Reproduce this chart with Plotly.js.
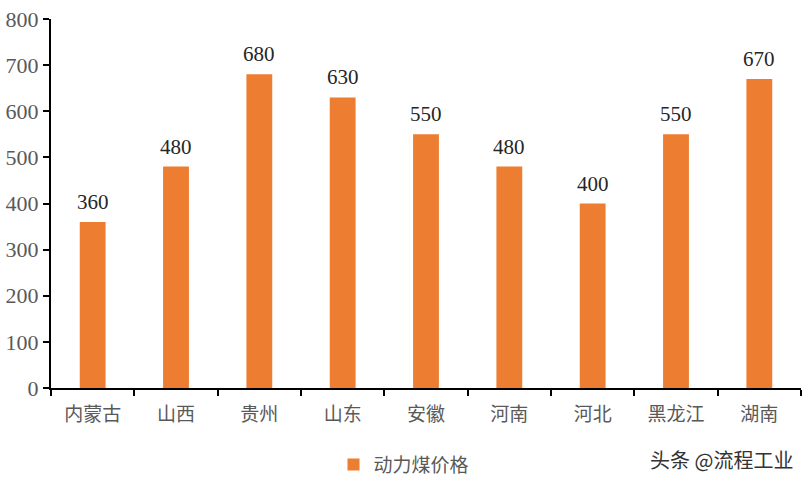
<!DOCTYPE html>
<html><head><meta charset="utf-8">
<script src="https://cdn.plot.ly/plotly-3.0.1.min.js"></script>
<style>html,body{margin:0;padding:0;background:#fff}#c{width:808px;height:484px}</style>
</head><body><div id="c"></div>
<script>
const categories = ["内蒙古","山西","贵州","山东","安徽","河南","河北","黑龙江","湖南"];
const prices = [360,480,680,630,550,480,400,550,670];
const seriesName = "动力煤价格";
const yTicks = [0,100,200,300,400,500,600,700,800];

const serif = "Liberation Serif, Times New Roman, serif";
const cjk = "Noto Sans CJK SC, sans-serif";

const labels = categories.map((c, i) => ({
  x: c, y: prices[i], xref: "x", yref: "y",
  text: String(prices[i]), showarrow: false,
  yanchor: "bottom", yshift: 6,
  font: {family: serif, size: 21, color: "#262626"}
}));

Plotly.newPlot("c", [{
  type: "bar",
  x: categories,
  y: prices,
  name: seriesName,
  marker: {color: "#ED7D31"},
  showlegend: true
}], {
  width: 808, height: 484,
  margin: {l: 51, r: 7, t: 19, b: 96, autoexpand: false},
  paper_bgcolor: "#fff", plot_bgcolor: "#fff",
  bargap: 0.69,
  xaxis: {
    type: "category", automargin: false,
    showline: true, linecolor: "#000", linewidth: 2,
    ticks: "outside", tickson: "boundaries", ticklen: 6, tickcolor: "#000", tickwidth: 2,
    ticklabelstandoff: 8,
    tickfont: {family: cjk, size: 19, color: "#595959"},
    showgrid: false, zeroline: false
  },
  yaxis: {
    range: [0, 800], automargin: false,
    tickvals: yTicks,
    showline: true, linecolor: "#000", linewidth: 2,
    ticks: "outside", ticklen: 6, tickcolor: "#000", tickwidth: 2,
    tickfont: {family: serif, size: 22, color: "#595959"},
    showgrid: false, zeroline: false
  },
  legend: {
    orientation: "h", xref: "container", yref: "container",
    x: 0.5, xanchor: "center", y: 0.04, yanchor: "middle",
    font: {family: cjk, size: 19, color: "#595959"}
  },
  annotations: labels.concat([{
    text: "头条 @流程工业", xref: "paper", yref: "paper",
    x: 0.992, y: -0.195, xanchor: "right", yanchor: "middle", showarrow: false,
    font: {family: cjk, size: 20, color: "#333"}
  }])
}, {displayModeBar: false, staticPlot: true});
</script></body></html>
